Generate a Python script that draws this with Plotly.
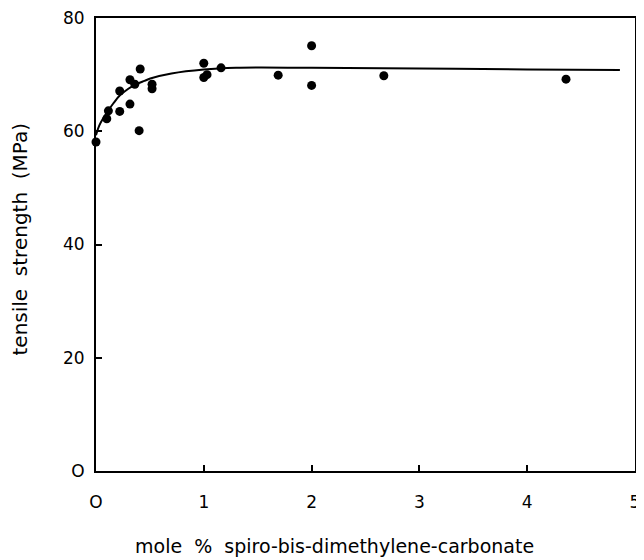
import plotly.graph_objects as go

# measured points
x_pts = [0.0, 0.10, 0.115, 0.22, 0.22, 0.315, 0.315, 0.36, 0.40, 0.41, 0.52, 0.52,
         1.0, 1.0, 1.03, 1.16, 1.69, 2.0, 2.0, 2.67, 4.36]
y_pts = [58.1, 62.2, 63.6, 67.1, 63.5, 69.1, 64.8, 68.3, 60.1, 71.0, 68.3, 67.5,
         72.0, 69.5, 70.0, 71.2, 69.9, 75.1, 68.1, 69.8, 69.2]

# fitted curve
x_fit = [0, 0.03, 0.07, 0.115, 0.16, 0.22, 0.3, 0.36, 0.45, 0.52, 0.7, 1.0, 1.3, 2.0, 3.0, 4.0, 4.86]
y_fit = [59.3, 61.0, 62.4, 63.7, 64.9, 66.3, 67.5, 68.2, 68.9, 69.4, 70.2, 70.9, 71.2, 71.2, 71.1, 70.9, 70.8]

x_ticks = [0, 1, 2, 3, 4, 5]
x_ticklabels = ["O", "1", "2", "3", "4", "5"]
y_ticks = [0, 20, 40, 60, 80]
y_ticklabels = ["O", "20", "40", "60", "80"]

x_title = "mole  %  spiro-bis-dimethylene-carbonate"
y_title = "tensile  strength  (MPa)"

fig = go.Figure()
fig.add_trace(go.Scatter(x=x_fit, y=y_fit, mode="lines", line=dict(color="black", width=2, shape="spline"),
                         hoverinfo="skip", showlegend=False))
fig.add_trace(go.Scatter(x=x_pts, y=y_pts, mode="markers", marker=dict(color="black", size=9),
                         showlegend=False, cliponaxis=False))

font = dict(family="DejaVu Sans, Liberation Sans, sans-serif", color="black")
fig.update_layout(
    width=636, height=552,
    margin=dict(l=88, r=9, t=10, b=89),
    plot_bgcolor="white", paper_bgcolor="white",
    font=dict(**font, size=16),
    xaxis=dict(range=[0, 5], tickvals=x_ticks, ticktext=x_ticklabels, ticks="inside", ticklen=6,
               tickwidth=1.5, tickcolor="black", showline=True, linecolor="black", linewidth=2,
               mirror=True, showgrid=False, zeroline=False, ticklabelstandoff=15,
               automargin=False, ticklabeloverflow="allow", tickfont=dict(size=17)),
    yaxis=dict(range=[0, 80], tickvals=y_ticks, ticktext=y_ticklabels, ticks="inside", ticklen=6,
               tickwidth=1.5, tickcolor="black", showline=True, linecolor="black", linewidth=2,
               mirror=True, showgrid=False, zeroline=False, ticklabelstandoff=6,
               automargin=False, ticklabeloverflow="allow", tickfont=dict(size=17)),
    annotations=[
        dict(text=x_title, xref="paper", yref="paper",
             x=0.443, y=0, yshift=-75, showarrow=False, xanchor="center", yanchor="middle",
             font=dict(size=19)),
        dict(text=y_title, xref="paper", yref="paper", textangle=-90,
             x=0, xshift=-76, y=0.511, showarrow=False, xanchor="center", yanchor="middle",
             font=dict(size=20)),
    ],
)
fig.write_html("out.html")
